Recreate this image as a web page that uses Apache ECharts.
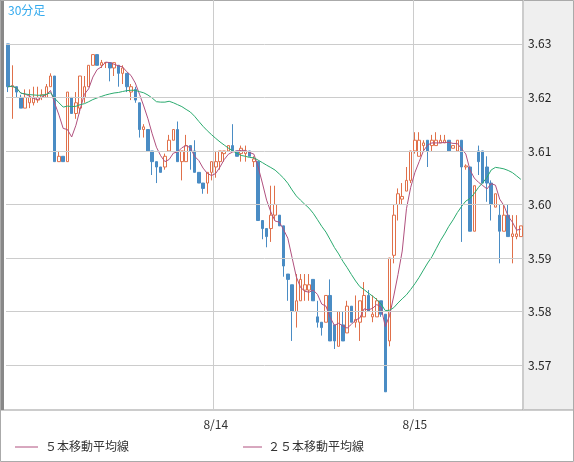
<!DOCTYPE html>
<html><head><meta charset="utf-8">
<script src="https://cdn.jsdelivr.net/npm/echarts@6/dist/echarts.min.js"></script>
<style>html,body{margin:0;padding:0;background:#fff}#c{width:574px;height:462px}</style>
</head><body><div id="c"></div>
<script>
// [open, close, low, high] per 30-min candle
const candles = [
[3.630,3.622,3.621,3.630],[3.622,3.6222,3.616,3.626],[3.622,3.621,3.620,3.622],[3.620,3.618,3.618,3.6205],
[3.618,3.620,3.618,3.6215],[3.619,3.620,3.618,3.6215],[3.619,3.620,3.6185,3.622],[3.6195,3.620,3.619,3.622],
[3.620,3.6205,3.6195,3.6215],[3.620,3.622,3.620,3.6225],[3.622,3.624,3.622,3.6245],[3.624,3.608,3.608,3.624],
[3.608,3.609,3.608,3.610],[3.609,3.608,3.608,3.609],[3.608,3.621,3.608,3.621],[3.620,3.617,3.617,3.620],
[3.617,3.619,3.616,3.621],[3.618,3.624,3.617,3.624],[3.620,3.622,3.619,3.624],[3.622,3.626,3.622,3.626],
[3.626,3.628,3.626,3.628],[3.628,3.626,3.626,3.628],[3.626,3.6265,3.6255,3.627],[3.6265,3.6265,3.6255,3.6265],
[3.6265,3.6255,3.623,3.6265],[3.6255,3.6265,3.624,3.6265],[3.626,3.6245,3.622,3.626],[3.6245,3.6255,3.6225,3.626],
[3.6245,3.622,3.621,3.6245],[3.621,3.622,3.6195,3.6225],
[3.6215,3.6195,3.619,3.622],[3.619,3.614,3.6125,3.619],[3.614,3.6145,3.6125,3.615],[3.614,3.610,3.610,3.614],
[3.610,3.608,3.6055,3.610],[3.608,3.607,3.604,3.608],[3.607,3.606,3.606,3.607],[3.607,3.609,3.6065,3.6095],
[3.610,3.612,3.610,3.613],[3.612,3.614,3.612,3.614],[3.614,3.608,3.608,3.6155],[3.608,3.610,3.6045,3.610],
[3.608,3.611,3.608,3.613],[3.611,3.610,3.6065,3.611],[3.610,3.606,3.606,3.612],[3.606,3.604,3.604,3.606],
[3.604,3.603,3.602,3.604],[3.604,3.606,3.602,3.606],[3.606,3.608,3.6045,3.608],[3.607,3.608,3.605,3.610],
[3.608,3.610,3.6065,3.610],[3.6095,3.610,3.608,3.610],[3.610,3.611,3.610,3.611],[3.611,3.610,3.610,3.615],
[3.610,3.609,3.609,3.610],[3.6095,3.6105,3.608,3.611],[3.6095,3.610,3.608,3.611],[3.610,3.609,3.609,3.610],
[3.608,3.6085,3.607,3.609],[3.608,3.597,3.597,3.608],[3.597,3.5955,3.5935,3.597],[3.5955,3.594,3.592,3.5955],
[3.5955,3.598,3.593,3.6035],[3.598,3.600,3.597,3.6035],[3.598,3.596,3.596,3.598],[3.596,3.5885,3.5865,3.596],
[3.587,3.586,3.582,3.587],[3.585,3.580,3.5745,3.585],[3.580,3.582,3.577,3.587],[3.582,3.586,3.582,3.587],
[3.584,3.585,3.582,3.587],[3.584,3.585,3.582,3.587],[3.586,3.582,3.582,3.586],[3.579,3.578,3.577,3.582],
[3.578,3.577,3.5755,3.578],[3.578,3.583,3.578,3.583],[3.583,3.5745,3.5745,3.586],[3.5775,3.5745,3.573,3.5775],
[3.5735,3.580,3.5735,3.580],[3.5775,3.5745,3.5745,3.580],[3.576,3.581,3.576,3.582],[3.581,3.578,3.578,3.581],
[3.578,3.5785,3.577,3.583],[3.578,3.582,3.5745,3.582],[3.579,3.583,3.579,3.5855],[3.583,3.580,3.580,3.584],
[3.579,3.5795,3.578,3.583],[3.579,3.582,3.579,3.5825],[3.582,3.5795,3.579,3.582],[3.5795,3.565,3.565,3.5795],
[3.5745,3.590,3.5735,3.590],[3.5905,3.598,3.589,3.600],[3.600,3.602,3.597,3.603],
[3.601,3.6015,3.600,3.604],[3.6025,3.6045,3.6025,3.607],[3.6045,3.610,3.604,3.610],[3.610,3.612,3.6095,3.6135],
[3.609,3.612,3.609,3.6135],[3.611,3.6115,3.610,3.612],[3.612,3.610,3.607,3.612],[3.611,3.612,3.610,3.613],
[3.611,3.612,3.611,3.6135],[3.6115,3.612,3.6115,3.613],[3.6115,3.612,3.6115,3.613],[3.612,3.610,3.610,3.612],
[3.6105,3.611,3.6105,3.611],[3.610,3.612,3.610,3.612],[3.612,3.607,3.593,3.612],[3.607,3.6072,3.6065,3.6075],
[3.607,3.595,3.595,3.607],[3.595,3.6035,3.595,3.6035],[3.610,3.608,3.6055,3.611],[3.610,3.604,3.604,3.610],
[3.607,3.604,3.6005,3.609],[3.604,3.600,3.597,3.6045],[3.5995,3.602,3.5995,3.602],[3.598,3.595,3.589,3.600],
[3.595,3.598,3.595,3.600],[3.598,3.594,3.594,3.600],[3.594,3.5945,3.589,3.598],[3.594,3.5945,3.5935,3.598],
[3.594,3.596,3.594,3.596]
];
const dateLabels = {49:'8/14', 96:'8/15'};
const yTicks = [3.57,3.58,3.59,3.60,3.61,3.62,3.63];
const legendNames = ['５本移動平均線','２５本移動平均線'];
const title = '30分足';

const cats = candles.map((_, i) => String(i));
function ma(n){
  return candles.map((_, i) => {
    const s = Math.max(0, i-n+1); let sum = 0;
    for (let k=s;k<=i;k++) sum += candles[k][1];
    return +(sum/(i-s+1)).toFixed(5);
  });
}
const chart = echarts.init(document.getElementById('c'));
const ff = '"Noto Sans CJK JP","DejaVu Sans",sans-serif';
chart.setOption({
  animation:false,
  grid:{left:6,right:51,top:0,bottom:52},
  graphic:[
    {type:'rect',shape:{x:523,y:0,width:51,height:410},style:{fill:'#efefef'},z:-10},
    {type:'line',shape:{x1:523,y1:0,x2:523,y2:410},style:{stroke:'#999',lineWidth:1}},
    {type:'line',shape:{x1:0,y1:410,x2:574,y2:410},style:{stroke:'#999',lineWidth:1}},
    {type:'rect',shape:{x:0,y:0,width:4,height:410},style:{fill:'#888'}},
    {type:'rect',shape:{x:0.5,y:0.5,width:573,height:461},style:{fill:'none',stroke:'#aaa'}},
    {type:'text',left:8,top:4,style:{text:title,fill:'#33aaee',font:'12px '+ff}},
    {type:'line',shape:{x1:15,y1:447,x2:38,y2:447},style:{stroke:'#b0507e',lineWidth:1}},
    {type:'text',left:45,top:440,style:{text:legendNames[0],fill:'#333',font:'12px '+ff}},
    {type:'line',shape:{x1:243,y1:447,x2:262,y2:447},style:{stroke:'#b0507e',lineWidth:1}},
    {type:'text',left:268,top:440,style:{text:legendNames[1],fill:'#333',font:'12px '+ff}}
  ],
  xAxis:{type:'category',data:cats,boundaryGap:true,
    axisLine:{show:false},axisTick:{show:false},
    axisLabel:{interval:(i)=>dateLabels[i]!==undefined,formatter:(v,i)=>dateLabels[i]||'',color:'#333',fontSize:12,fontFamily:ff,margin:8},
    splitLine:{show:true,interval:(i)=>dateLabels[i]!==undefined,lineStyle:{color:'#ccc'}}},
  yAxis:{type:'value',position:'right',min:3.5616,max:3.6382,scale:true,
    axisLine:{show:false},axisTick:{show:false},splitLine:{show:false},
    axisLabel:{customValues:yTicks,formatter:v=>v.toFixed(2),color:'#222',fontSize:12,fontFamily:ff,margin:5}},
  series:[
    {type:'candlestick',data:candles.map(c=>[c[0],c[1],c[2],c[3]]),barWidth:3,
      itemStyle:{color:'#ffffff',color0:'#4a8cc4',borderColor:'#e0704a',borderColor0:'#4a8cc4',borderWidth:1},
      markLine:{silent:true,symbol:'none',label:{show:false},lineStyle:{color:'#ccc',type:'solid',width:1},
        data:yTicks.map(v=>({yAxis:v}))},z:3},
    {type:'line',name:legendNames[0],data:ma(5),symbol:'none',smooth:false,lineStyle:{color:'#b0507e',width:1},z:4},
    {type:'line',name:legendNames[1],data:ma(25),symbol:'none',lineStyle:{color:'#2aaa6e',width:1},z:4}
  ]
});
</script></body></html>
